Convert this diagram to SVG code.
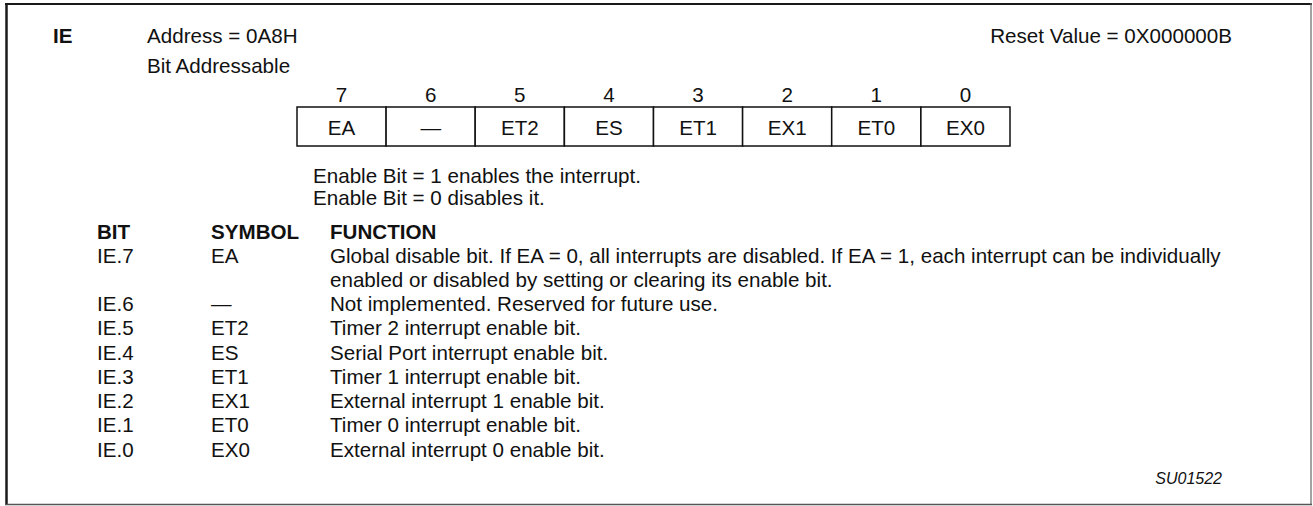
<svg xmlns="http://www.w3.org/2000/svg" width="1313" height="506" viewBox="0 0 1313 506">
<style>
text{font-family:"Liberation Sans",Arial,sans-serif;font-size:20.6px;fill:#111}
.b{font-weight:bold}
.c{text-anchor:middle}
.r{text-anchor:end}
.i{font-style:italic;font-size:16px}
.cell{fill:#fff;stroke:#111;stroke-width:1.5}
</style>
<rect x="0" y="0" width="1313" height="506" fill="#fff"/>
<g id="frame">
<line x1="5" y1="4" x2="1312" y2="4" stroke="#1a1a1a" stroke-width="2"/>
<line x1="6.5" y1="3" x2="6.5" y2="505" stroke="#1a1a1a" stroke-width="2.5"/>
<line x1="1311" y1="3" x2="1311" y2="505" stroke="#666" stroke-width="1.2"/>
<line x1="5" y1="504.5" x2="1312" y2="504.5" stroke="#555" stroke-width="1.5"/>
</g>
<g id="header">
<text class="b" x="53" y="43">IE</text>
<text x="147" y="43">Address = 0A8H</text>
<text x="147" y="73">Bit Addressable</text>
<text class="r" x="1232" y="43">Reset Value = 0X000000B</text>
</g>
<g id="register">
<g id="bitnums">
<text class="c" x="341.6" y="102">7</text>
<text class="c" x="430.7" y="102">6</text>
<text class="c" x="519.8" y="102">5</text>
<text class="c" x="609" y="102">4</text>
<text class="c" x="698.1" y="102">3</text>
<text class="c" x="787.2" y="102">2</text>
<text class="c" x="876.3" y="102">1</text>
<text class="c" x="965.4" y="102">0</text>
</g>
<g id="cell7"><rect class="cell" x="297" y="107" width="89.1" height="39"/><text class="c" x="341.6" y="135">EA</text></g>
<g id="cell6"><rect class="cell" x="386.1" y="107" width="89.1" height="39"/><text class="c" x="430.7" y="135">—</text></g>
<g id="cell5"><rect class="cell" x="475.2" y="107" width="89.1" height="39"/><text class="c" x="519.8" y="135">ET2</text></g>
<g id="cell4"><rect class="cell" x="564.4" y="107" width="89.1" height="39"/><text class="c" x="609" y="135">ES</text></g>
<g id="cell3"><rect class="cell" x="653.5" y="107" width="89.1" height="39"/><text class="c" x="698.1" y="135">ET1</text></g>
<g id="cell2"><rect class="cell" x="742.6" y="107" width="89.1" height="39"/><text class="c" x="787.2" y="135">EX1</text></g>
<g id="cell1"><rect class="cell" x="831.7" y="107" width="89.1" height="39"/><text class="c" x="876.3" y="135">ET0</text></g>
<g id="cell0"><rect class="cell" x="920.9" y="107" width="89.1" height="39"/><text class="c" x="965.4" y="135">EX0</text></g>
</g>
<g id="note">
<text x="313" y="183">Enable Bit = 1 enables the interrupt.</text>
<text x="313" y="205">Enable Bit = 0 disables it.</text>
</g>
<g id="table">
<text class="b" x="97" y="239">BIT</text>
<text class="b" x="211" y="239">SYMBOL</text>
<text class="b" x="330" y="239">FUNCTION</text>
<text x="97" y="263">IE.7</text><text x="211" y="263">EA</text><text x="330" y="263">Global disable bit. If EA = 0, all interrupts are disabled. If EA = 1, each interrupt can be individually</text>
<text x="330" y="287">enabled or disabled by setting or clearing its enable bit.</text>
<text x="97" y="311">IE.6</text><text x="211" y="311">—</text><text x="330" y="311">Not implemented. Reserved for future use.</text>
<text x="97" y="335">IE.5</text><text x="211" y="335">ET2</text><text x="330" y="335">Timer 2 interrupt enable bit.</text>
<text x="97" y="360">IE.4</text><text x="211" y="360">ES</text><text x="330" y="360">Serial Port interrupt enable bit.</text>
<text x="97" y="384">IE.3</text><text x="211" y="384">ET1</text><text x="330" y="384">Timer 1 interrupt enable bit.</text>
<text x="97" y="408">IE.2</text><text x="211" y="408">EX1</text><text x="330" y="408">External interrupt 1 enable bit.</text>
<text x="97" y="432">IE.1</text><text x="211" y="432">ET0</text><text x="330" y="432">Timer 0 interrupt enable bit.</text>
<text x="97" y="457">IE.0</text><text x="211" y="457">EX0</text><text x="330" y="457">External interrupt 0 enable bit.</text>
</g>
<text class="i r" x="1222" y="484">SU01522</text>
</svg>
